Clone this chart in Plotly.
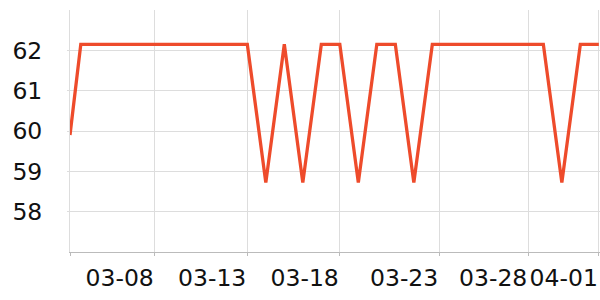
import plotly.graph_objects as go

dates = ["2025-03-03 10:00"] + [f"2025-03-{d:02d}" for d in range(4, 32)] + ["2025-04-01"]
values = [59.9,
          62.15, 62.15, 62.15, 62.15, 62.15, 62.15, 62.15, 62.15, 62.15, 62.15,  # 03-04..03-13
          58.72, 62.15, 58.72, 62.15, 62.15, 58.72, 62.15, 62.15, 58.72,         # 03-14..03-22
          62.15, 62.15, 62.15, 62.15, 62.15, 62.15, 62.15,                       # 03-23..03-29
          58.72, 62.15, 62.15]                                                   # 03-30..04-01

tick_vals = ["2025-03-03 10:00", "2025-03-08", "2025-03-13", "2025-03-18",
             "2025-03-23 09:00", "2025-03-28 04:30", "2025-04-01"]
tick_text = ["", "03-08", "03-13", "03-18", "03-23", "03-28", "04-01"]
y_ticks = [58, 59, 60, 61, 62]

fig = go.Figure()
fig.add_trace(go.Scatter(x=dates, y=values, mode="lines",
                         line=dict(color="#ee4b2b", width=3.3), hoverinfo="skip"))

font = dict(family="DejaVu Sans", size=23.5, color="#111111")
fig.update_layout(
    width=600, height=300,
    margin=dict(l=70, r=0, t=10, b=48),
    paper_bgcolor="white", plot_bgcolor="white",
    showlegend=False,
    font=font,
)
fig.update_xaxes(
    type="date",
    range=["2025-03-03 10:00", "2025-04-01 01:30"],
    tickmode="array", tickvals=tick_vals, ticktext=tick_text,
    tickangle=0,
    showgrid=True, gridcolor="#dddddd", gridwidth=1,
    showline=True, linecolor="#bbbbbb", linewidth=1,
    ticks="outside", ticklen=3, tickcolor="#bbbbbb",
    ticklabelposition="outside left",
    ticklabelstandoff=5,
    tickfont=font,
    zeroline=False,
)
fig.update_yaxes(
    range=[57, 63],
    tickmode="array", tickvals=y_ticks,
    showgrid=True, gridcolor="#dddddd", gridwidth=1,
    showline=True, linecolor="#dddddd", linewidth=1,
    ticks="outside", ticklen=2, tickcolor="#dddddd",
    ticklabelstandoff=20,
    tickfont=font,
    zeroline=False,
)
fig.write_html("out.html")
